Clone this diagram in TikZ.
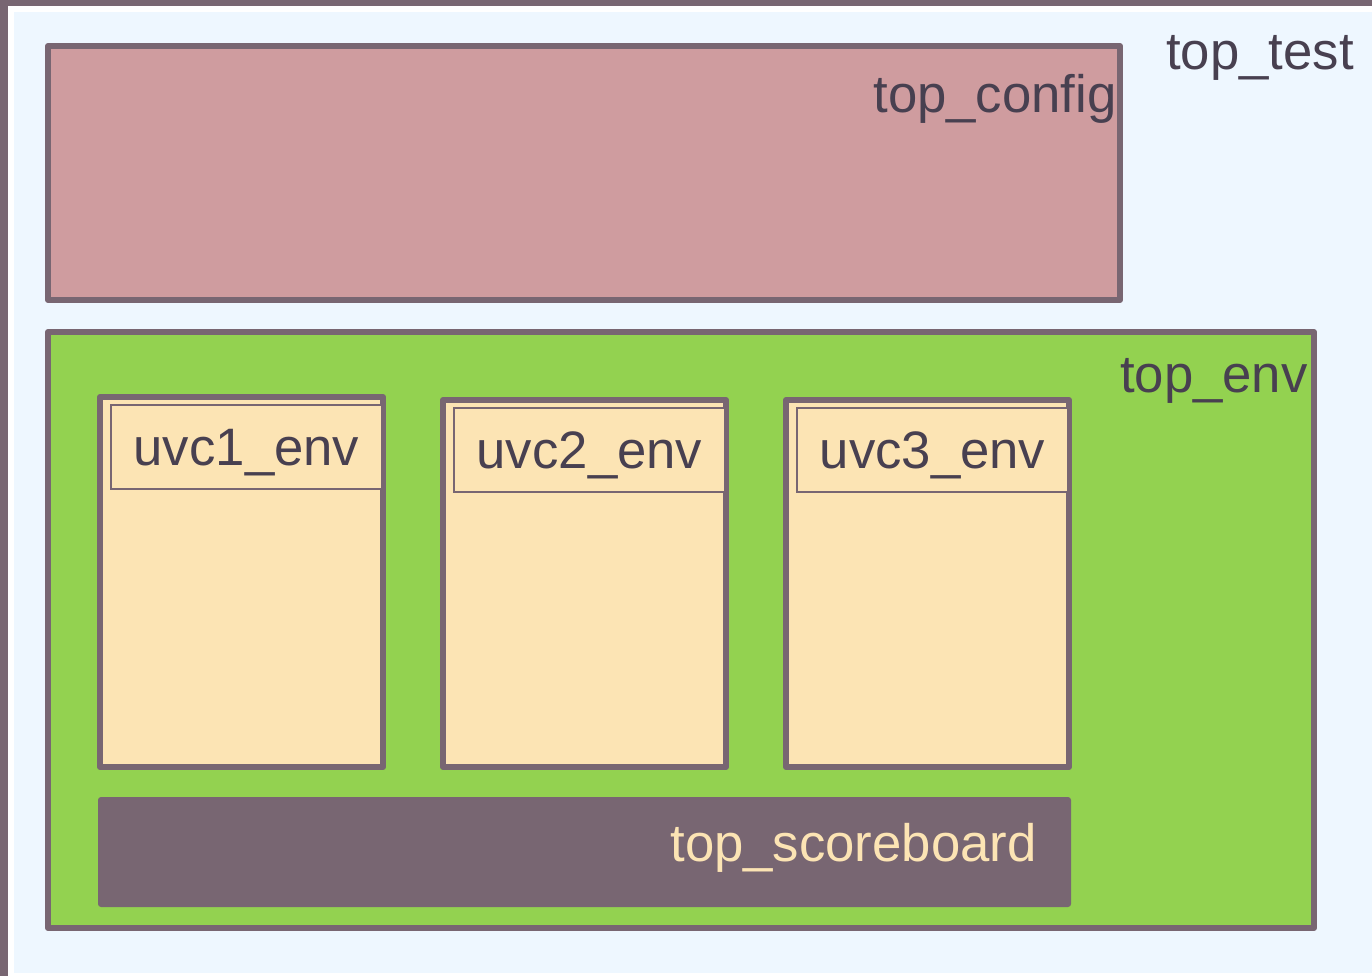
\documentclass[tikz,border=0pt]{standalone}
\usepackage{fontspec}
\setmainfont{Liberation Sans}
\definecolor{edge}{HTML}{786672}
\definecolor{ink}{HTML}{484050}
\definecolor{testbg}{HTML}{EEF7FF}
\definecolor{cfgfill}{HTML}{CF9C9F}
\definecolor{envfill}{HTML}{93D250}
\definecolor{cream}{HTML}{FCE4B4}
\usetikzlibrary{positioning}
\tikzset{
  blk/.style={draw=edge, line width=0.12cm, line join=round, inner sep=0pt, outer sep=0pt},
  wh/.style 2 args={minimum width=(#1)*0.02cm, minimum height=(#2)*0.02cm},
  tag/.style={text=ink, inner sep=0pt},
}

\begin{document}
\begin{tikzpicture}[x=0.02cm, y=-0.02cm,
    font=\fontsize{30}{36}\selectfont]
  \useasboundingbox (0,0) rectangle (1372,976);
  % page and test frame
  \fill[white] (0,0) rectangle (1372,976);
  \fill[edge] (0,0) rectangle (1372,6);
  \fill[edge] (0,0) rectangle (8,976);
  \fill[testbg] (14,12) rectangle (1372,973);
  \node[tag, anchor=base east] (test-name) at (1354,70) {top\_test};
  % config block
  \node[blk, fill=cfgfill, wh={1072}{254}, anchor=north west] (config) at (48,46) {};
  \node[tag, anchor=base east] (config-name) at (1117,113) {top\_config};
  % env block
  \node[blk, fill=envfill, wh={1266}{596}, anchor=north west] (env) at (48,332) {};
  \node[tag, anchor=base east] (env-name) at (1308,393) {top\_env};
  % agents
  \foreach \i/\x/\y in {1/100/397, 2/443/400, 3/786/400} {
    \node[blk, fill=cream, wh={283}{767-\y}, anchor=north west] (uvc\i) at (\x,\y) {};
    \node[draw=edge, line width=0.03cm, fill=cream, wh={271}{84}, text=ink,
          anchor=north west, inner sep=0pt, outer sep=0pt, text depth=0pt]
      (uvc\i-name) at (\x+11,\y+8) {uvc\i\_env};
  }
  % scoreboard
  \node[fill=edge, rounded corners=0.06cm, wh={973}{110}, anchor=north west, outer sep=0pt]
    (scbd) at (98,797) {};
  \node[text=cream, inner sep=0pt, anchor=base east] (scbd-name) at (1037,861) {top\_scoreboard};
\end{tikzpicture}
\end{document}
